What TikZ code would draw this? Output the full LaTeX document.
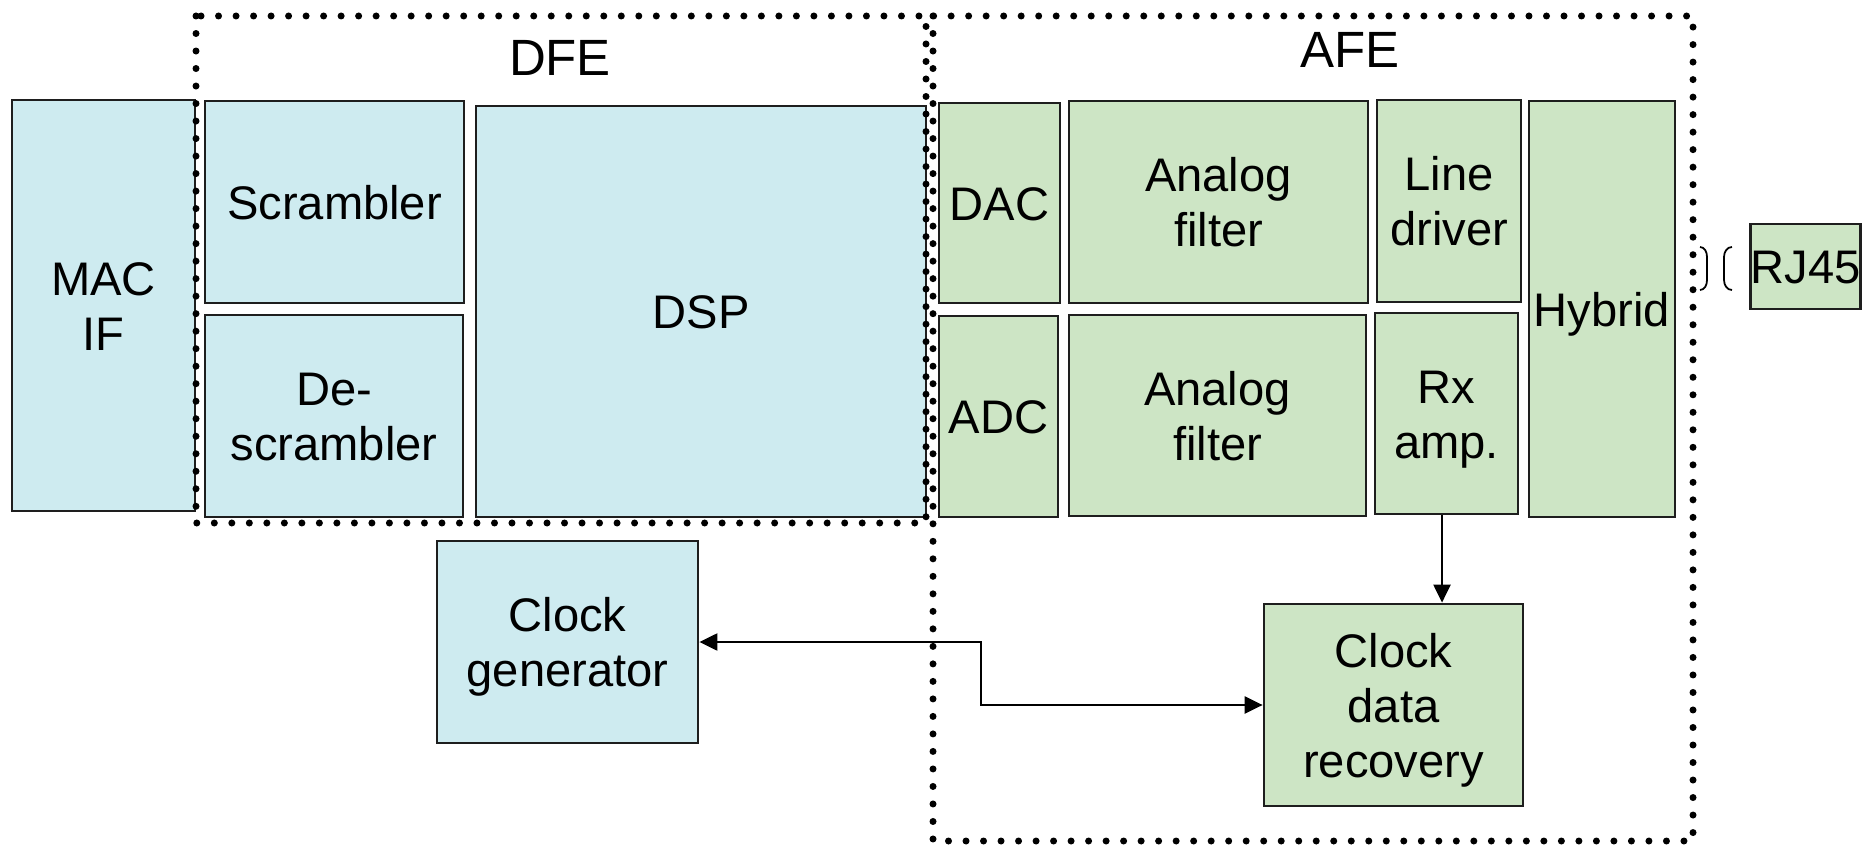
\documentclass[tikz,border=0pt]{standalone}
\usepackage{fontspec}
\setmainfont{Liberation Sans}
\usetikzlibrary{arrows.meta}
\definecolor{bluefill}{RGB}{206,235,240}
\definecolor{greenfill}{RGB}{205,229,197}
\definecolor{edge}{RGB}{30,30,30}
\newcommand{\lnst}{\rule[-2.9pt]{0pt}{15.6pt}}
\tikzset{
  blk/.style={draw=edge, line width=0.75pt, inner sep=0pt, align=center,
    font=\fontsize{13.4pt}{15.7pt}\selectfont},
  bluebox/.style={blk, fill=bluefill},
  greenbox/.style={blk, fill=greenfill},
  dotframe/.style={line width=0.07cm, line cap=round, dash pattern=on 0pt off 0.175cm},
  grouplabel/.style={font=\fontsize{14.5pt}{17pt}\selectfont, inner sep=0pt},
  conn/.style={line width=0.65pt, -{Triangle[length=0.18cm,width=0.17cm]}},
  conn2/.style={line width=0.65pt, {Triangle[length=0.18cm,width=0.17cm]}-{Triangle[length=0.18cm,width=0.17cm]}},
  brace/.style={line width=0.5pt}
}
\begin{document}
\begin{tikzpicture}[x=0.01cm, y=-0.01cm]
\useasboundingbox (0,0) rectangle (1876,849);
% DFE blocks
\node[bluebox, minimum width=1.83cm, minimum height=4.11cm] (mac) at (103.5,305.5) {\lnst MAC\\\lnst IF};
\node[bluebox, minimum width=2.59cm, minimum height=2.02cm] (scr) at (334.5,202) {\lnst Scrambler};
\node[bluebox, minimum width=2.58cm, minimum height=2.02cm] (dscr) at (334,416) {\lnst De-\\\lnst scrambler};
\node[bluebox, minimum width=4.50cm, minimum height=4.11cm] (dsp) at (701,311.5) {\lnst DSP};
\node[bluebox, minimum width=2.61cm, minimum height=2.02cm] (cg) at (567.5,642) {\lnst Clock\\\lnst generator};
% AFE blocks
\node[greenbox, minimum width=1.21cm, minimum height=2.00cm] (dac) at (999.5,203) {\lnst DAC};
\node[greenbox, minimum width=1.19cm, minimum height=2.01cm] (adc) at (998.5,416.5) {\lnst ADC};
\node[greenbox, minimum width=2.99cm, minimum height=2.02cm] (af1) at (1218.5,202) {\lnst Analog\\\lnst filter};
\node[greenbox, minimum width=2.97cm, minimum height=2.01cm] (af2) at (1217.5,415.5) {\lnst Analog\\\lnst filter};
\node[greenbox, minimum width=1.44cm, minimum height=2.02cm] (ld) at (1449,201) {\lnst Line\\\lnst driver};
\node[greenbox, minimum width=1.43cm, minimum height=2.01cm] (rx) at (1446.5,413.5) {\lnst Rx\\\lnst amp.};
\node[greenbox, minimum width=1.46cm, minimum height=4.16cm] (hyb) at (1602,309) {\lnst Hybrid};
\node[greenbox, minimum width=1.07cm, minimum height=0.85cm] (rj) at (1805.5,266.5) {\lnst RJ45};
\node[greenbox, minimum width=2.59cm, minimum height=2.02cm] (cdr) at (1393.5,705) {\lnst Clock\\\lnst data\\\lnst recovery};
% group frames
\draw[dotframe] (196,16) rectangle (926,523);
\draw[dotframe] (933,16) rectangle (1693,841);
\node[grouplabel] (dfe) at (560,58) {DFE};
\node[grouplabel] (afe) at (1350,50) {AFE};
% braces
\draw[brace] (1700,247) to[out=0,in=90] (1707,257) -- (1707,280) to[out=-90,in=0] (1700,290);
\draw[brace] (1732,247) to[out=180,in=90] (1724,257) -- (1724,280) to[out=-90,in=180] (1732,290);
% connectors
\coordinate (bend) at (981,0);
\draw[conn] ([xshift=-0.045cm]rx.south) -- ([xshift=-0.045cm]rx.south |- cdr.north);
\draw[conn2] (cg.east) -| (bend |- cdr.west) -- (cdr.west);
\end{tikzpicture}
\end{document}
